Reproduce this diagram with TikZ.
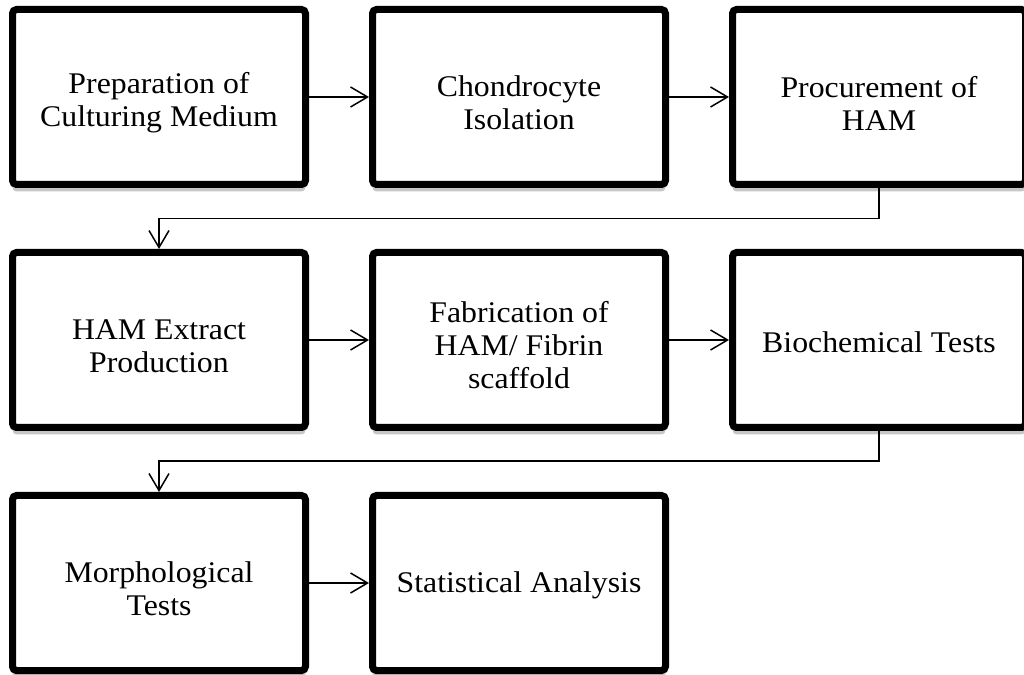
\documentclass[tikz,border=0pt]{standalone}
\usepackage{fontspec}
\setmainfont{Liberation Serif}[FakeStretch=1.06]
\usetikzlibrary{shadows,arrows.meta}
\begin{document}
\begin{tikzpicture}[x=1pt,y=1pt,
  stepbox/.style={draw=black, line width=7pt, rounded corners=4pt, fill=white,
    minimum width=293pt, minimum height=175pt, inner sep=0pt,
    drop shadow={shadow xshift=0pt, shadow yshift=-7pt, opacity=0.22, fill=black}},
  steptext/.style={align=center, inner sep=0pt, font=\fontsize{30}{33}\selectfont},
  conn/.style={line width=1.5pt, -{Straight Barb[length=17pt,width=20pt,line width=1.5pt]}}]
\useasboundingbox (0,0) rectangle (1024,674);
\node[stepbox] (b1) at (159,577) {};
\node[stepbox] (b2) at (519,577) {};
\node[stepbox] (b3) at (879,577) {};
\node[stepbox] (b4) at (159,334) {};
\node[stepbox] (b5) at (519,334) {};
\node[stepbox] (b6) at (879,334) {};
\node[stepbox] (b7) at (159,91) {};
\node[stepbox] (b8) at (519,91) {};
\node[steptext] (t1) at ([yshift=-6pt]b1.center) {Preparation of\\Culturing Medium};
\node[steptext] (t2) at ([yshift=-6pt]b2.center) {Chondrocyte\\Isolation};
\node[steptext] (t3) at ([yshift=-6pt]b3.center) {Procurement of\\HAM};
\node[steptext] (t4) at ([yshift=-6pt]b4.center) {HAM Extract\\Production};
\node[steptext] (t5) at ([yshift=-5pt]b5.center) {Fabrication of\\HAM/ Fibrin\\scaffold};
\node[steptext] (t6) at ([yshift=-2pt]b6.center) {Biochemical Tests};
\node[steptext] (t7) at ([yshift=-6pt]b7.center) {Morphological\\Tests};
\node[steptext] (t8) at ([yshift=-2pt]b8.center) {Statistical Analysis};
\coordinate (m1) at (0,455.5);
\coordinate (m2) at (0,213);
\draw[conn] (b1.east) -- (b2.west);
\draw[conn] (b2.east) -- (b3.west);
\draw[conn] (b3.south) -- (b3.south |- m1) -| (b4.north);
\draw[conn] (b4.east) -- (b5.west);
\draw[conn] (b5.east) -- (b6.west);
\draw[conn] (b6.south) -- (b6.south |- m2) -| (b7.north);
\draw[conn] (b7.east) -- (b8.west);
\end{tikzpicture}
\end{document}
